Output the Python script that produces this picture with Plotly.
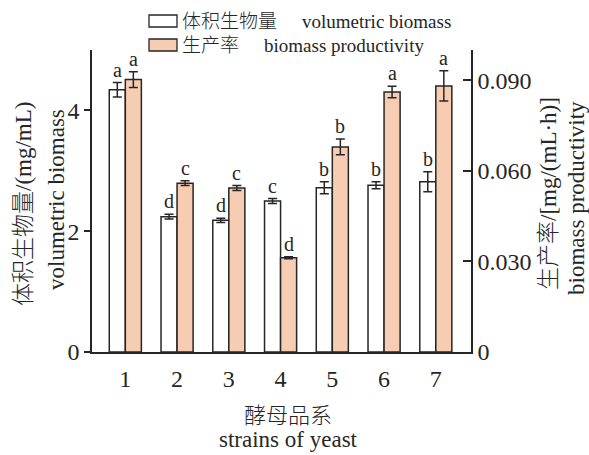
import plotly.graph_objects as go

# ---- data ----
strains = [1, 2, 3, 4, 5, 6, 7]
strain_labels = ["1", "2", "3", "4", "5", "6", "7"]
volumetric_biomass = [4.34, 2.24, 2.18, 2.50, 2.72, 2.76, 2.82]
volumetric_err = [0.12, 0.04, 0.035, 0.04, 0.10, 0.058, 0.166]
productivity = [0.0902, 0.0559, 0.0543, 0.0312, 0.0679, 0.0861, 0.0881]
productivity_err = [0.0026, 0.0008, 0.0008, 0.0003, 0.0026, 0.0019, 0.0050]
volumetric_letters = ["a", "d", "d", "c", "b", "b", "b"]
productivity_letters = ["a", "c", "c", "d", "b", "a", "a"]

# ---- style ----
W, H = 589, 455
ML, MR, MT, MB = 92, 118, 50, 103
PW, PH = W - ML - MR, H - MT - MB
SERIF = "Liberation Serif, 'Times New Roman', 'Noto Sans CJK SC', serif"
INK = "#262626"
ORANGE = "#F6CDB2"
BAR_W = 0.31


def px(x):
    return (x - ML) / PW


def py(y):
    return (H - MB - y) / PH


fig = go.Figure()

fig.add_trace(go.Bar(
    x=strains, y=volumetric_biomass, width=BAR_W, offset=-BAR_W,
    marker=dict(color="white", line=dict(color=INK, width=1.5)),
    error_y=dict(type="data", array=volumetric_err, color=INK, thickness=1.5, width=4.5),
    name="体积生物量", showlegend=False, yaxis="y",
))
fig.add_trace(go.Bar(
    x=strains, y=productivity, width=BAR_W, offset=0,
    marker=dict(color=ORANGE, line=dict(color=INK, width=1.5)),
    error_y=dict(type="data", array=productivity_err, color=INK, thickness=1.5, width=4.5),
    name="生产率", showlegend=False, yaxis="y2",
))

annotations = []
# significance letters above the error bars
for k, v, e, t in zip(strains, volumetric_biomass, volumetric_err, volumetric_letters):
    annotations.append(dict(x=k - BAR_W / 2, y=v + e, xref="x", yref="y", text=t,
                            showarrow=False, yanchor="bottom", yshift=0,
                            font=dict(family=SERIF, size=20, color=INK)))
for k, v, e, t in zip(strains, productivity, productivity_err, productivity_letters):
    annotations.append(dict(x=k + BAR_W / 2, y=v + e, xref="x", yref="y2", text=t,
                            showarrow=False, yanchor="bottom", yshift=0,
                            font=dict(family=SERIF, size=20, color=INK)))


def label(x, y, text, size, angle=0, xanchor="center"):
    annotations.append(dict(x=px(x), y=py(y), xref="paper", yref="paper", text=text,
                            showarrow=False, textangle=angle, xanchor=xanchor, yanchor="middle",
                            font=dict(family=SERIF, size=size, color=INK, weight=300)))


# axis titles
label(24, 204, "体积生物量/(mg/mL)", 23, -90)
label(56, 200, "volumetric biomass", 23, -90)
label(548, 194, "生产率/[mg/(mL·h)]", 23, -90)
label(577, 198, "biomass productivity", 23, -90)
label(288, 415, "酵母品系", 22)
label(288, 439, "strains of yeast", 23)

# legend
label(180, 21, "体积生物量", 19, xanchor="left")
label(300, 21, "volumetric biomass", 19, xanchor="left")
label(180, 45, "生产率", 19, xanchor="left")
label(262, 45, "biomass productivity", 19, xanchor="left")

shapes = [
    dict(type="rect", xref="paper", yref="paper", x0=px(149), x1=px(177), y0=py(27), y1=py(15),
         fillcolor="white", line=dict(color=INK, width=1.3)),
    dict(type="rect", xref="paper", yref="paper", x0=px(149), x1=px(177), y0=py(51), y1=py(39),
         fillcolor=ORANGE, line=dict(color=INK, width=1.3)),
]

fig.update_layout(
    width=W, height=H, autosize=False,
    margin=dict(l=ML, r=MR, t=MT, b=MB, pad=0),
    paper_bgcolor="white", plot_bgcolor="white",
    font=dict(family=SERIF, size=24, color=INK),
    barmode="overlay",
    annotations=annotations, shapes=shapes,
    xaxis=dict(range=[0.356, 7.68], tickmode="array", tickvals=strains, ticktext=strain_labels,
               showline=True, linecolor=INK, linewidth=1.5, ticks="", showgrid=False,
               zeroline=False, tickfont=dict(size=24), ticklabelstandoff=4),
    yaxis=dict(range=[0, 5], tickvals=[0, 2, 4], showline=True, linecolor=INK, linewidth=1.5,
               ticks="outside", ticklen=6, tickwidth=1.5, tickcolor=INK, showgrid=False,
               zeroline=False, tickfont=dict(size=24)),
    yaxis2=dict(range=[0, 0.1], tickvals=[0, 0.03, 0.06, 0.09],
                ticktext=["0", "0.030", "0.060", "0.090"], overlaying="y", side="right",
                showline=True, linecolor=INK, linewidth=1.5, ticks="inside", ticklen=8,
                tickwidth=1.5, tickcolor=INK, showgrid=False, zeroline=False,
                tickfont=dict(size=24)),
)

fig.write_html("out.html")
